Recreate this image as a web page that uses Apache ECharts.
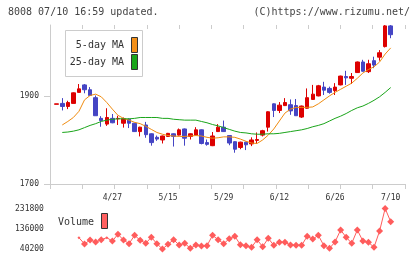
<!DOCTYPE html>
<html>
<head>
<meta charset="utf-8">
<script src="https://cdn.jsdelivr.net/npm/echarts@6.0.0/dist/echarts.min.js"></script>
<style>
    html, body { margin: 0; padding: 0; background: #fff; }
    #main { width: 420px; height: 259px; }
</style>
</head>
<body>
<div id="main"></div>
<script>
// 日付 (trading days)
var dates = ["4/13","4/14","4/15","4/16","4/17","4/20","4/21","4/22","4/23","4/24",
    "4/27","4/28","4/30","5/1","5/7","5/8","5/11","5/12","5/13","5/14",
    "5/15","5/18","5/19","5/20","5/21","5/22","5/25","5/26","5/27","5/28",
    "5/29","6/1","6/2","6/3","6/4","6/5","6/8","6/9","6/10","6/11",
    "6/12","6/15","6/16","6/17","6/18","6/19","6/22","6/23","6/24","6/25",
    "6/26","6/29","6/30","7/1","7/2","7/3","7/6","7/7","7/8","7/9","7/10"];
var dateLabels = ["4/27","5/15","5/29","6/12","6/26","7/10"];

// 四本値
var open  = [1881,1883,1876,1883,1908,1925,1914,1896,1849,1836,1849,1848,1838,1847,1838,1819,1834,1814,1806,1800,
             1808,1814,1811,1825,1808,1811,1823,1794,1787,1819,1829,1810,1796,1783,1795,1791,1799,1811,1829,1882,
             1867,1878,1880,1878,1852,1872,1892,1900,1920,1917,1912,1925,1944,1940,1953,1977,1955,1980,1988,2012,2059];
var close = [1882,1876,1885,1907,1916,1914,1901,1855,1844,1851,1839,1849,1848,1838,1819,1829,1812,1794,1802,1809,
             1815,1808,1823,1804,1814,1823,1792,1790,1809,1829,1819,1793,1779,1795,1789,1800,1801,1821,1864,1867,
             1879,1885,1866,1855,1877,1896,1904,1923,1913,1908,1920,1945,1941,1944,1977,1956,1973,1970,1998,2059,2039];
var low   = [1881,1867,1870,1883,1908,1906,1900,1855,1830,1832,1838,1834,1828,1827,1818,1808,1805,1787,1798,1792,
             1807,1785,1810,1787,1801,1810,1790,1787,1786,1818,1818,1788,1771,1779,1777,1786,1791,1808,1819,1852,
             1861,1877,1857,1855,1850,1871,1891,1899,1902,1905,1902,1924,1925,1927,1952,1955,1952,1963,1980,2010,2031];
var high  = [1882,1895,1889,1908,1927,1927,1920,1901,1854,1872,1859,1855,1851,1849,1839,1830,1841,1815,1810,1810,
             1816,1815,1826,1826,1815,1829,1824,1801,1818,1836,1844,1811,1797,1796,1796,1806,1817,1823,1865,1883,
             1886,1895,1892,1893,1878,1917,1925,1925,1932,1921,1929,1946,1957,1952,1978,1982,1982,1989,2004,2061,2061];

// 移動平均
var ma5  = [null,1834,1842,1851,1865,1891,1901,1904,1898,1885,1870,1856,1849,1845,1840,1837,1831,1824,1817,1813,1810,
            1809,1808,1808,1809,1810,1809,1806,1804,1805,1807,1807,1806,1802,1797,1793,1792,1800,1811,1825,1843,
            1861,1870,1874,1874,1874,1875,1882,1891,1900,1908,1915,1922,1929,1940,1952,1960,1966,1977,1995,2009];
var ma25 = [null,1817,1818,1820,1823,1828,1833,1837,1842,1845,1847,1848,1848,1848,1849,1851,1851,1851,1851,1849,1849,
            1847,1846,1845,1845,1845,1842,1839,1835,1832,1828,1824,1820,1817,1816,1814,1813,1813,1814,1814,1815,
            1817,1819,1821,1823,1826,1830,1833,1837,1843,1849,1854,1860,1867,1873,1877,1883,1890,1898,1908,1919];

// 出来高
var volume = [null,null,null,null,93700,63900,82800,73300,84200,93700,78000,109800,82800,65300,105000,81400,67200,95600,65300,40200,
              62400,84200,59100,67200,43500,59100,54400,55800,105000,84200,65300,88900,100300,60500,55800,48200,84200,51100,90800,57700,
              71900,71900,59100,57700,57700,100300,87500,105000,55800,43500,73300,130100,95600,67200,130100,78000,71900,48200,125400,231800,169400];
var smallMarks = [4, 9];

var priceTicks = [1700, 1900];
var volTicks = [40200, 136000, 231800];

var yMax = Math.max.apply(null, high);
var volMin = Math.min.apply(null, volume.filter(function(v){ return v !== null; }));
var volMax = Math.max.apply(null, volume);

var kdata = [];
for (var i = 0; i < dates.length; i++) {
    kdata.push([open[i], close[i], low[i], high[i]]);
}

var mono = '"DejaVu Sans Mono", "Liberation Mono", monospace';
var axisGray = '#cccccc';
var textGray = '#333333';
// 桁区切りなし
var plain = function(v) { return String(v); };

var myChart = echarts.init(document.getElementById('main'), null, { renderer: 'canvas' });

var option = {
    animation: false,
    backgroundColor: '#ffffff',
    grid: [
        { left: 53.9, top: 25, width: 339.6, height: 159 },     // candles
        { left: 53.9, top: 208.5, width: 339.6, height: 40.5 }, // volume
        { left: 50, top: 25, width: 355, height: 159 }          // frame axes
    ],
    xAxis: [
        {
            type: 'category', gridIndex: 0, data: dates, boundaryGap: true,
            axisLine: { show: false }, axisTick: { show: false }, splitLine: { show: false },
            axisLabel: {
                margin: 10, fontSize: 8, fontFamily: mono, color: textGray,
                interval: function(idx, val) { return dateLabels.indexOf(val) >= 0; }
            }
        },
        { type: 'category', gridIndex: 1, data: dates, boundaryGap: true, show: false },
        {
            type: 'value', gridIndex: 2, min: 0, max: 11, interval: 1,
            axisLine: { show: true, lineStyle: { color: axisGray, width: 1 } },
            axisTick: { show: true, length: 5, lineStyle: { color: axisGray } },
            axisLabel: { show: false }, splitLine: { show: false }
        },
        {
            type: 'value', gridIndex: 2, min: 0, max: 11, interval: 1,
            axisLine: { show: false },
            axisTick: { show: true, inside: true, length: 4, lineStyle: { color: axisGray } },
            axisLabel: { show: false }, splitLine: { show: false }
        }
    ],
    yAxis: [
        { type: 'value', gridIndex: 0, min: 1700, max: yMax, show: false, splitLine: { show: false } },
        {
            type: 'value', gridIndex: 1, min: volMin, max: volMax,
            axisLine: { show: false }, axisTick: { show: false }, splitLine: { show: false },
            axisLabel: { customValues: volTicks, formatter: plain, margin: 10, fontSize: 8, fontFamily: mono, color: textGray }
        },
        {
            type: 'value', gridIndex: 2, min: 1700, max: yMax,
            axisLine: { show: true, lineStyle: { color: axisGray, width: 1 } },
            axisTick: { show: true, customValues: priceTicks, length: 6, lineStyle: { color: axisGray } },
            axisLabel: { customValues: priceTicks, formatter: plain, margin: 11, fontSize: 8, fontFamily: mono, color: textGray },
            splitLine: { show: false }
        },
        {
            type: 'value', gridIndex: 2, min: 1700, max: yMax,
            axisLine: { show: false },
            axisTick: { show: true, inside: true, customValues: priceTicks, length: 3, lineStyle: { color: axisGray } },
            axisLabel: { show: false }, splitLine: { show: false }
        }
    ],
    series: [
        {
            name: 'price', type: 'candlestick', xAxisIndex: 0, yAxisIndex: 0,
            data: kdata, barWidth: 4,
            itemStyle: {
                color: '#dd0000', color0: '#4545c4',
                borderColor: '#dd0000', borderColor0: '#4545c4', borderWidth: 1
            }
        },
        {
            name: '5-day MA', type: 'line', xAxisIndex: 0, yAxisIndex: 0,
            data: ma5, showSymbol: false, symbol: 'none',
            lineStyle: { color: '#f08c10', width: 1 }
        },
        {
            name: '25-day MA', type: 'line', xAxisIndex: 0, yAxisIndex: 0,
            data: ma25, showSymbol: false, symbol: 'none',
            lineStyle: { color: '#1aa51a', width: 1 }
        },
        {
            name: 'Volume', type: 'line', xAxisIndex: 1, yAxisIndex: 1,
            data: volume, symbol: 'diamond', showAllSymbol: true,
            symbolSize: function(v, p) { return smallMarks.indexOf(p.dataIndex) >= 0 ? 3 : 7; },
            itemStyle: { color: '#ff5c5c' },
            lineStyle: { color: '#ff5c5c', width: 1 }
        }
    ],
    graphic: [
        { type: 'text', style: { text: '8008 07/10 16:59 updated.', x: 8, y: 12, font: '10px ' + mono, fill: '#444', align: 'left', verticalAlign: 'middle' } },
        { type: 'text', style: { text: '(C)https://www.rizumu.net/', x: 410, y: 12, font: '10px ' + mono, fill: '#444', align: 'right', verticalAlign: 'middle' } },
        // legend box
        { type: 'rect', shape: { x: 65.5, y: 30.5, width: 77, height: 46 }, style: { fill: '#fff', stroke: '#cccccc', lineWidth: 1 } },
        { type: 'text', style: { text: '5-day MA', x: 124, y: 45, font: '10px ' + mono, fill: textGray, align: 'right', verticalAlign: 'middle' } },
        { type: 'rect', shape: { x: 131.5, y: 37.5, width: 6, height: 15 }, style: { fill: '#f39019', stroke: '#333', lineWidth: 1 } },
        { type: 'text', style: { text: '25-day MA', x: 124, y: 62, font: '10px ' + mono, fill: textGray, align: 'right', verticalAlign: 'middle' } },
        { type: 'rect', shape: { x: 131.5, y: 54.5, width: 6, height: 15 }, style: { fill: '#1aa51a', stroke: '#333', lineWidth: 1 } },
        // volume label
        { type: 'text', style: { text: 'Volume', x: 58, y: 222, font: '10px ' + mono, fill: textGray, align: 'left', verticalAlign: 'middle' } },
        { type: 'rect', shape: { x: 101.5, y: 213.5, width: 6, height: 15 }, style: { fill: '#ff6060', stroke: '#333', lineWidth: 1 } }
    ]
};

myChart.setOption(option);
</script>
</body>
</html>
